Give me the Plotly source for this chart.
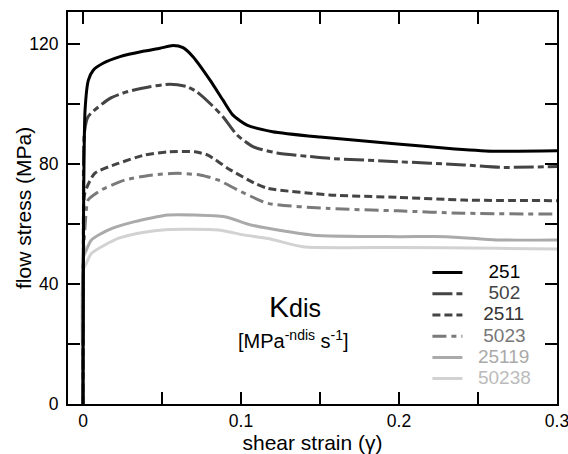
import plotly.graph_objects as go

labels = ["251", "502", "2511", "5023", "25119", "50238"]

x_251 = [0, 0.0003, 0.0013, 0.0034, 0.0065, 0.0127, 0.0234, 0.038, 0.0487, 0.057, 0.0633, 0.0696, 0.0804, 0.0886, 0.0949, 0.1038, 0.120, 0.150, 0.199, 0.230, 0.259, 0.30]
y_251 = [0, 60, 98, 108, 111.3, 113.6, 115.8, 117.6, 118.6, 119.5, 118.8, 115.8, 108, 101.3, 96.3, 93, 90.8, 89, 86.7, 85.3, 84.3, 84.4]

x_502 = [0, 0.0003, 0.0008, 0.0032, 0.0171, 0.0278, 0.0424, 0.0551, 0.0658, 0.072, 0.0804, 0.0886, 0.0975, 0.1076, 0.1228, 0.1437, 0.156, 0.199, 0.241, 0.264, 0.30]
y_502 = [0, 60, 90, 95.8, 101.9, 104.1, 105.8, 106.6, 105.8, 104.1, 100.2, 95.8, 89.7, 85.8, 83.7, 82.5, 81.9, 80.8, 79.7, 78.9, 79.2]

x_2511 = [0, 0.0003, 0.0011, 0.0074, 0.0222, 0.039, 0.0538, 0.0707, 0.079, 0.0925, 0.1087, 0.1171, 0.156, 0.199, 0.241, 0.30]
y_2511 = [0, 50, 70.2, 76.9, 80.2, 83, 84.1, 84.1, 83, 78.3, 73.6, 71.9, 69.7, 68.9, 68, 67.8]

x_5023 = [0, 0.0003, 0.0023, 0.0032, 0.0114, 0.0266, 0.043, 0.0601, 0.0747, 0.0854, 0.1, 0.1171, 0.156, 0.199, 0.241, 0.30]
y_5023 = [0, 50, 65.8, 68, 71.3, 74.7, 76.3, 76.9, 76.3, 74.7, 70.8, 66.9, 65.2, 64.4, 63.6, 63.3]

x_25119 = [0, 0.0003, 0.0021, 0.0053, 0.0158, 0.0327, 0.0538, 0.0707, 0.0897, 0.1063, 0.1171, 0.1456, 0.199, 0.230, 0.262, 0.30]
y_25119 = [0, 49, 51.3, 54.7, 58, 60.8, 63, 63, 62.4, 59.7, 58.6, 56.3, 55.8, 55.8, 54.7, 54.7]

x_50238 = [0, 0.0003, 0.0021, 0.0053, 0.0222, 0.0367, 0.0538, 0.0854, 0.1025, 0.1171, 0.1392, 0.199, 0.262, 0.30]
y_50238 = [0, 45, 46.9, 50.2, 55.2, 57.1, 58.2, 58, 56.3, 55.2, 52.4, 52.2, 51.9, 51.7]

xs = [x_251, x_502, x_2511, x_5023, x_25119, x_50238]
ys = [y_251, y_502, y_2511, y_5023, y_25119, y_50238]

line_colors = ["#000000", "#444444", "#444444", "#7a7a7a", "#aaaaaa", "#d2d2d2"]
text_colors = ["#000000", "#444444", "#333333", "#777777", "#aaaaaa", "#bbbbbb"]
dashes = ["solid", "20px,4px,6px,4px", "8px,4px", "14px,5px,5px,5px", "solid", "solid"]
pads = [4, 4, 3, 3, 2, 2]

y_tickvals = [0, 20, 40, 60, 80, 100, 120]
y_ticktext = ["0", "", "40", "", "80", "", "120"]
x_tickvals = [0, 0.05, 0.1, 0.15, 0.2, 0.25, 0.3]
x_ticktext = ["0", "", "0.1", "", "0.2", "", "0.3"]

FONT = "Liberation Sans, Arial, Helvetica, sans-serif"

fig = go.Figure()
# draw in reverse so the black curve lies on top; legend order reversed back
for lab, x, y, lc, tc, d, p in reversed(list(zip(labels, xs, ys, line_colors, text_colors, dashes, pads))):
    fig.add_trace(go.Scatter(
        x=x, y=y, mode="lines",
        name=f"<span style='color:{tc};font-size:19px'>{'&nbsp;' * p}{lab}</span>",
        line=dict(color=lc, width=3, dash=d, shape="spline", smoothing=0.6),
    ))

axis_common = dict(
    showline=True, linecolor="black", linewidth=2, mirror="ticks",
    ticks="inside", ticklen=12, tickwidth=1.5, tickcolor="black",
    showgrid=False, zeroline=False, automargin=False,
    ticklabeloverflow="allow",
    tickfont=dict(family=FONT, size=17.5, color="black"),
)

fig.update_layout(
    width=568, height=454,
    margin=dict(l=68, r=11, t=12, b=50),
    paper_bgcolor="white", plot_bgcolor="white",
    font=dict(family=FONT, size=17, color="black"),
    xaxis=dict(range=[-0.0095, 0.3], tickmode="array", tickvals=x_tickvals, ticktext=x_ticktext,
               title=dict(text="shear strain (γ)", font=dict(family=FONT, size=21), standoff=3),
               **axis_common),
    yaxis=dict(range=[0, 130.7], tickmode="array", tickvals=y_tickvals, ticktext=y_ticktext,
               ticklabelstandoff=4,
               **axis_common),
    legend=dict(x=0.735, y=0.375, xanchor="left", yanchor="top",
                bgcolor="rgba(0,0,0,0)", font=dict(family=FONT, size=14),
                itemwidth=30, tracegroupgap=0, traceorder="reversed"),
    showlegend=True,
)

# y-axis title placed as rotated text
fig.add_annotation(x=-0.092, y=0.5, xref="paper", yref="paper", showarrow=False,
                   xanchor="center", yanchor="middle", textangle=-90,
                   text="flow stress (MPa)", font=dict(family=FONT, size=21, color="black"))

fig.add_annotation(x=0.134, y=32.5, xref="x", yref="y", showarrow=False,
                   text="K<span style='font-size:25px'>dis</span>",
                   font=dict(family=FONT, size=30, color="black"))
fig.add_annotation(x=0.133, y=21.5, xref="x", yref="y", showarrow=False,
                   text="[MPa<sup>-ndis</sup> s<sup>-1</sup>]",
                   font=dict(family=FONT, size=20, color="black"))

fig.write_html("out.html")
